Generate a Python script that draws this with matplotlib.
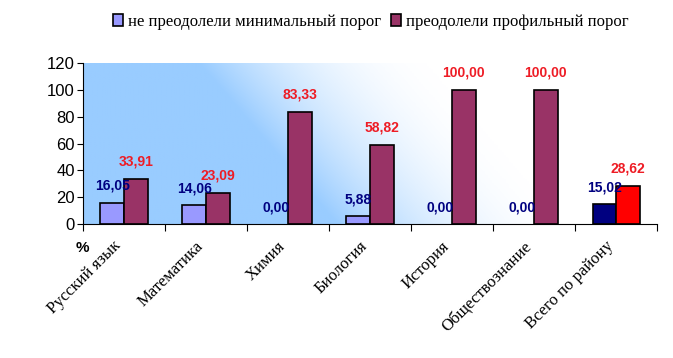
import numpy as np
import matplotlib
matplotlib.use("Agg")
import matplotlib.pyplot as plt
from matplotlib.colors import LinearSegmentedColormap
from matplotlib.transforms import ScaledTranslation

categories = ["Русский язык", "Математика", "Химия", "Биология",
              "История", "Обществознание", "Всего по району"]
not_min = [16.05, 14.06, 0.00, 5.88, 0.00, 0.00, 15.02]
passed_prof = [33.91, 23.09, 83.33, 58.82, 100.00, 100.00, 28.62]
series_names = ["не преодолели минимальный порог", "преодолели профильный порог"]
y_ticks = [0, 20, 40, 60, 80, 100, 120]

fig = plt.figure(figsize=(6.73, 3.58), dpi=100)
ax = fig.add_axes([0.1233, 0.374, 0.853, 0.45])

# gradient background (blue lower-left -> white right)
nx, ny = 300, 100
xs = np.linspace(0, 1, nx)
ys = np.linspace(1, 0, ny)
X, Y = np.meshgrid(xs, ys)
t = np.clip((X + 0.24 * Y - 0.44) / 0.42, 0, 1)
t = t * (2 - t)
bg = LinearSegmentedColormap.from_list("bg", ["#99CCFF", "#FFFFFF"])
ax.imshow(t, cmap=bg, extent=[-0.5, len(categories) - 0.5, 0, 120],
          aspect="auto", zorder=0, interpolation="bilinear")

x = np.arange(len(categories))
w = 0.287
blue_cols = ["#9999FF"] * (len(categories) - 1) + ["#000080"]
red_cols = ["#993366"] * (len(categories) - 1) + ["#FF0000"]
b1 = ax.bar(x - w / 2, not_min, w, color=blue_cols, edgecolor="black",
            linewidth=1.2, zorder=2, label=series_names[0])
b2 = ax.bar(x + w / 2, passed_prof, w, color=red_cols, edgecolor="black",
            linewidth=1.2, zorder=2, label=series_names[1])
for p, v in zip(b1.patches, not_min):
    if v == 0:
        p.set_linewidth(0)

for xi, v in zip(x, not_min):
    ax.annotate(f"{v:.2f}".replace(".", ","), (xi - w / 2, v), xytext=(0, 12),
                textcoords="offset points", ha="center", va="center",
                color="#000080", fontsize=10, fontweight="bold",
                family="Liberation Sans", zorder=3)
for xi, v in zip(x, passed_prof):
    ax.annotate(f"{v:.2f}".replace(".", ","), (xi + w / 2, v), xytext=(0, 12.5),
                textcoords="offset points", ha="center", va="center",
                color="#EE1C25", fontsize=10, fontweight="bold",
                family="Liberation Sans", zorder=3)

ax.set_xlim(-0.5, len(categories) - 0.5)
ax.set_ylim(0, 120)
ax.set_yticks(y_ticks)
ax.set_yticklabels([str(v) for v in y_ticks], family="Liberation Sans", fontsize=12)
ax.set_xticks(np.arange(len(categories) + 1) - 0.5)
ax.set_xticklabels([])
ax.tick_params(axis="x", which="major", length=5, direction="out")
ax.tick_params(axis="y", length=4, direction="out", pad=2)

# rotated category labels
lab_tr = ax.get_xaxis_transform() + ScaledTranslation(-11 / 100, -14 / 100, fig.dpi_scale_trans)
for xi, name in zip(x, categories):
    ax.text(xi, 0, name, transform=lab_tr, rotation=45, ha="right", va="top",
            rotation_mode="anchor", family="Liberation Serif", fontsize=12)

for s in ["top", "right"]:
    ax.spines[s].set_visible(False)

fig.text(0.123, 1 - 248 / 358, "%", family="Liberation Sans", fontsize=11,
         fontweight="bold", ha="center", va="center")

h, l = ax.get_legend_handles_labels()
leg = fig.legend(h, l, loc="center", bbox_to_anchor=(0.551, 1 - 22 / 358), ncol=2,
                 frameon=False, prop={"family": "Liberation Serif", "size": 12},
                 handlelength=0.6, handleheight=0.7, handletextpad=0.3,
                 columnspacing=0.6)
leg.legend_handles[0].set_facecolor("#9999FF")
leg.legend_handles[1].set_facecolor("#993366")

fig.savefig("out.png", dpi=100)
